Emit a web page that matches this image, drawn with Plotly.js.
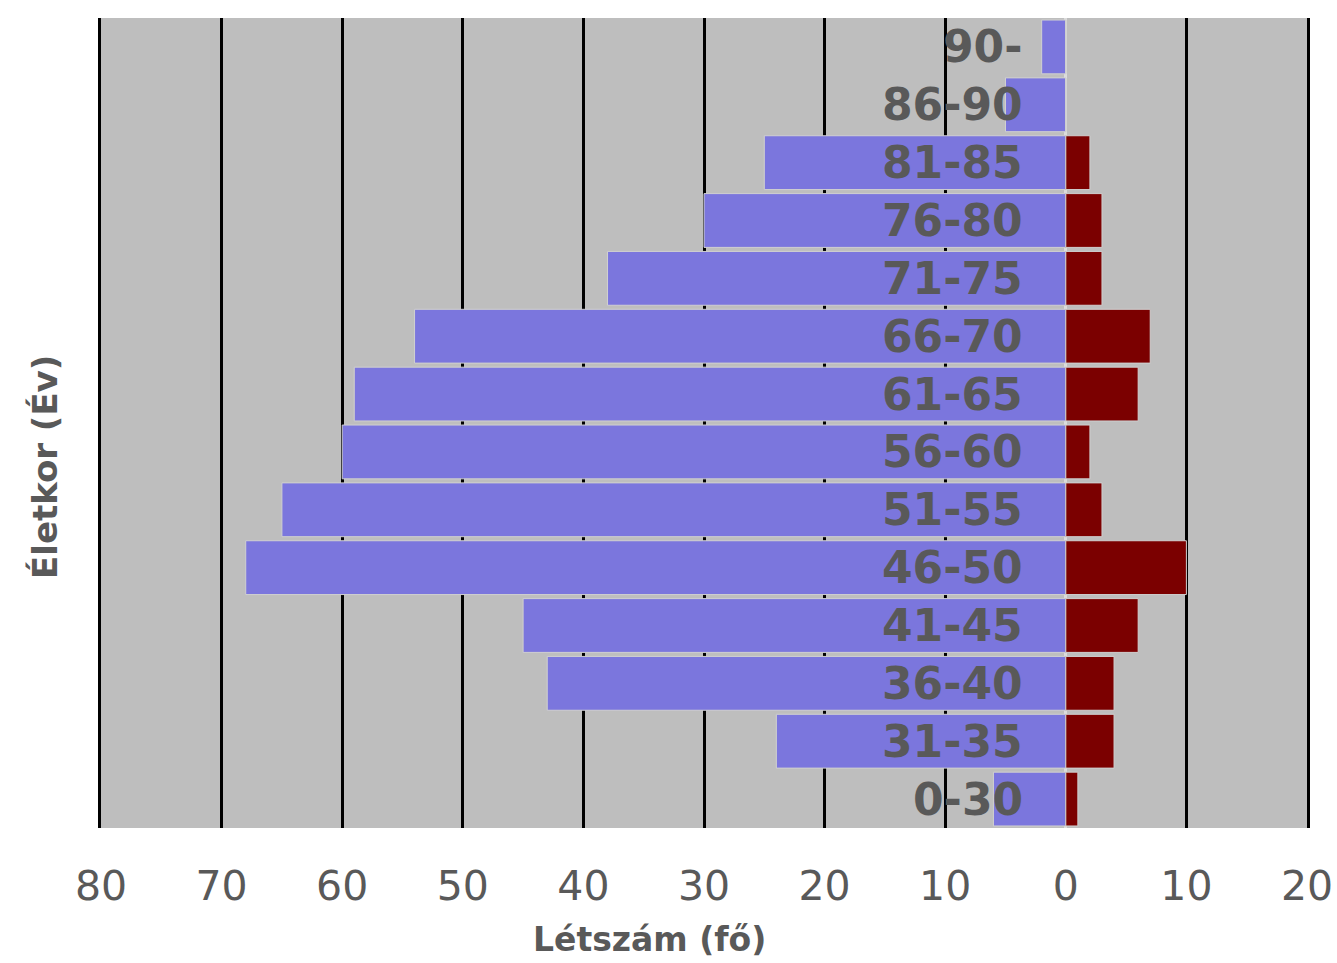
<!DOCTYPE html>
<html>
<head>
<meta charset="utf-8">
<script src="https://cdn.plot.ly/plotly-3.0.1.min.js"></script>
<style>html,body{margin:0;padding:0;background:#fff;}#chart{width:1337px;height:963px;}</style>
</head>
<body>
<div id="chart"></div>
<script>
const ageGroups = ['0-30','31-35','36-40','41-45','46-50','51-55','56-60','61-65','66-70','71-75','76-80','81-85','86-90','90-'];
const leftValues = [6, 24, 43, 45, 68, 65, 60, 59, 54, 38, 30, 25, 5, 2];
const rightValues = [1, 4, 4, 6, 10, 3, 2, 6, 7, 3, 3, 2, 0, 0];
const tickValues = [-80, -70, -60, -50, -40, -30, -20, -10, 0, 10, 20];
const tickLabels = ['80','70','60','50','40','30','20','10','0','10','20'];
const xTitle = 'Létszám (fő)';
const yTitle = 'Életkor (Év)';

const FONT = 'DejaVu Sans, Verdana, sans-serif';
const GREY = '#595959';

const traces = [
  {
    type: 'bar', orientation: 'h', y: ageGroups, x: leftValues.map(v => -v),
    marker: {color: '#7b76dd', line: {color: '#d0d0d0', width: 1}},
    hoverinfo: 'skip'
  },
  {
    type: 'bar', orientation: 'h', y: ageGroups, x: rightValues,
    marker: {color: '#7b0000', line: {color: '#d0d0d0', width: 1}},
    hoverinfo: 'skip'
  }
];

const W = 1337, H = 963, L = 101, R = 30, T = 18, B = 135;
const pw = W - L - R, ph = H - T - B;

const annotations = ageGroups.map(g => ({
  x: -3.4, y: g, xref: 'x', yref: 'y', text: '<b>' + g + '</b>', showarrow: false,
  xanchor: 'right', yanchor: 'middle',
  font: {family: FONT, size: 44, color: GREY}
}));
annotations.push({
  x: (649 - L) / pw, y: -(940 - (H - B)) / ph, xref: 'paper', yref: 'paper',
  xanchor: 'center', yanchor: 'middle',
  text: '<b>' + xTitle + '</b>', showarrow: false,
  font: {family: FONT, size: 33, color: GREY}
});
annotations.push({
  x: (45 - L) / pw, y: ((H - B) - 467) / ph, xref: 'paper', yref: 'paper',
  xanchor: 'center', yanchor: 'middle',
  text: '<b>' + yTitle + '</b>', showarrow: false,
  textangle: -90, font: {family: FONT, size: 34, color: GREY}
});

const layout = {
  width: W, height: H,
  margin: {l: L, r: R, t: T, b: B},
  paper_bgcolor: '#ffffff',
  plot_bgcolor: '#bebebe',
  barmode: 'relative',
  bargap: 0.07,
  showlegend: false,
  xaxis: {
    range: [-80, 20],
    tickvals: tickValues, ticktext: tickLabels,
    showgrid: true, gridcolor: '#000000', gridwidth: 3,
    zeroline: true, zerolinecolor: '#dcdcdc', zerolinewidth: 3,
    showline: false, ticks: '',
    ticklabelstandoff: 30,
    tickfont: {family: FONT, size: 41, color: GREY},
    fixedrange: true
  },
  yaxis: {
    type: 'category',
    showticklabels: false, showgrid: false, zeroline: false,
    showline: true, mirror: true, linecolor: '#000000', linewidth: 3,
    ticks: '',
    range: [-0.5, ageGroups.length - 0.5],
    fixedrange: true
  },
  annotations: annotations
};

Plotly.newPlot('chart', traces, layout, {displayModeBar: false, staticPlot: true});
</script>
</body>
</html>
